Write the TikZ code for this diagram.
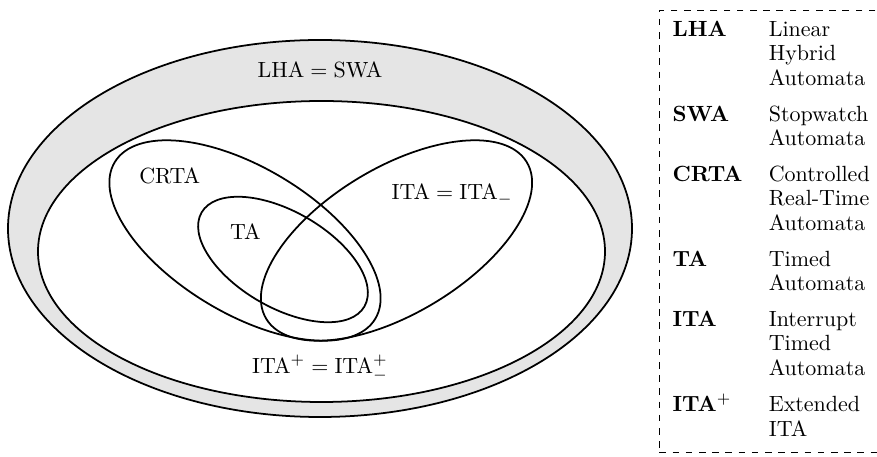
\documentclass[tikz,border=0pt]{standalone}
\begin{document}
\begin{tikzpicture}[x=0.4545pt,y=0.4545pt,
        set/.style={thick},
        lbl/.style={anchor=base,inner sep=0pt},
        legend/.style={draw,dashed,inner xsep=6pt,inner ysep=4pt,anchor=north west,
            font=\fontsize{10}{11.14}\selectfont}]
        \useasboundingbox (0,0) rectangle (877,457);
        % outer classes
        \draw [set,fill=gray!20] (320,228.5) ellipse [x radius=312,y radius=188.5];
        \draw [set,fill=white] (321.5,205.5) ellipse [x radius=283.5,y radius=150.5];
        % CRTA, ITA and TA
        \draw [set,shift={(245,216.5)},rotate=-31] (0,0) ellipse [x radius=152,y radius=73];
        \draw [set,shift={(396.5,216.5)},rotate=31] (0,0) ellipse [x radius=152,y radius=73];
        \draw [set,shift={(283,197.5)},rotate=-30] (0,0) ellipse [x radius=94,y radius=48];
        \path (320,379) node [lbl] (lha) {$\mathrm{LHA}=\mathrm{SWA}$};
        \path (169.7,273.7) node [lbl] (crta) {CRTA};
        \path (452.2,257) node [lbl] (ita) {$\mathrm{ITA}=\mathrm{ITA}_-$};
        \path (245.3,217) node [lbl] (ta) {TA};
        \path (320,83) node [lbl] (itap) {$\mathrm{ITA}^+=\mathrm{ITA}^+_-$};
        % legend
        \node [legend] (key) at (659,447) {%
            \begin{tabular}{@{}l p{64pt}@{}}
                \textbf{LHA} & Linear\newline Hybrid\newline Automata \\[5.1pt]
                \textbf{SWA} & Stopwatch\newline Automata \\[5.1pt]
                \textbf{CRTA} & Controlled\newline Real-Time\newline Automata \\[5.1pt]
                \textbf{TA} & Timed\newline Automata \\[5.1pt]
                \textbf{ITA} & Interrupt\newline Timed\newline Automata \\[5.1pt]
                \textbf{ITA}$^+$ & Extended\newline ITA
            \end{tabular}};
    \end{tikzpicture}
\end{document}
